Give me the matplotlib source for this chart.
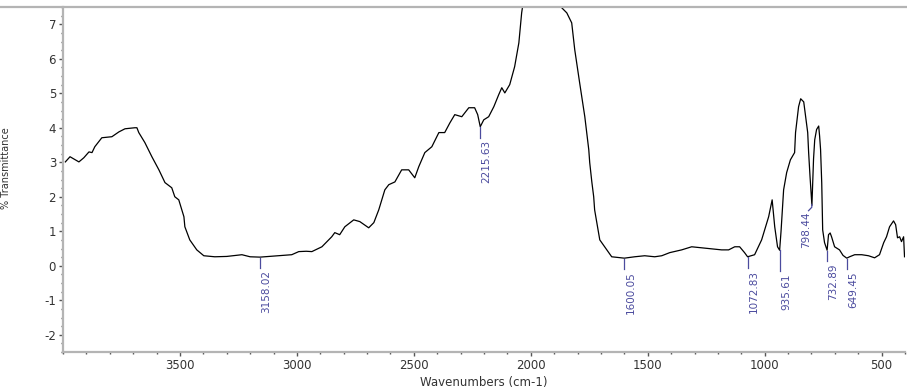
import numpy as np
import matplotlib
matplotlib.use("Agg")
import matplotlib.pyplot as plt
from matplotlib.lines import Line2D
from matplotlib.ticker import MultipleLocator

plt.rcParams["axes.unicode_minus"] = False

WAVENUMBER = [
    3990, 3970, 3950, 3932, 3911, 3889, 3876, 3864, 3834, 3791, 3761, 3735,
    3693, 3684, 3676, 3650, 3620, 3590, 3564, 3535, 3522, 3505, 3483, 3479,
    3458, 3428, 3398, 3351, 3300, 3235, 3200, 3158, 3077, 3022, 2992, 2960,
    2936, 2893, 2851, 2838, 2817, 2795, 2757, 2731, 2693, 2671, 2650, 2624,
    2607, 2581, 2552, 2522, 2496, 2479, 2453, 2423, 2393, 2368, 2346, 2325,
    2295, 2265, 2240, 2227, 2216, 2201, 2180, 2158, 2137, 2124, 2111, 2090,
    2069, 2051, 2039, 2020, 1960, 1900, 1868, 1846, 1825, 1812, 1791, 1769,
    1752, 1748, 1739, 1731, 1727, 1705, 1684, 1654, 1611, 1600, 1556, 1513,
    1470, 1440, 1406, 1355, 1312, 1269, 1227, 1184, 1154, 1128, 1107, 1086,
    1073, 1043, 1013, 983, 968, 957, 945, 936, 930, 919, 906, 890,
    872, 868, 863, 855, 846, 833, 825, 816, 812, 806, 798, 791,
    786, 778, 769, 765, 761, 756, 752, 744, 733, 727, 720, 714,
    701, 680, 665, 649, 637, 615, 585, 556, 530, 509, 491, 479,
    466, 449, 440, 432, 423, 415, 406, 402,
]
TRANSMITTANCE = [
    3.01, 3.16, 3.08, 3.01, 3.13, 3.30, 3.28, 3.45, 3.71, 3.74, 3.88, 3.97,
    4.00, 4.00, 3.86, 3.57, 3.16, 2.78, 2.41, 2.26, 2.00, 1.91, 1.42, 1.13,
    0.75, 0.46, 0.29, 0.26, 0.27, 0.32, 0.26, 0.25, 0.29, 0.32, 0.41, 0.42,
    0.41, 0.55, 0.84, 0.96, 0.90, 1.13, 1.33, 1.28, 1.10, 1.25, 1.62, 2.20,
    2.35, 2.43, 2.78, 2.78, 2.55, 2.87, 3.28, 3.45, 3.86, 3.86, 4.14, 4.38,
    4.32, 4.58, 4.58, 4.38, 4.03, 4.23, 4.32, 4.61, 4.96, 5.16, 5.01, 5.25,
    5.77, 6.46, 7.33, 8.20, 8.60, 8.40, 7.48, 7.33, 7.04, 6.26, 5.30, 4.32,
    3.36, 2.99, 2.43, 2.00, 1.62, 0.75, 0.55, 0.26, 0.23, 0.22, 0.26, 0.29,
    0.26, 0.29, 0.38, 0.46, 0.55, 0.52, 0.49, 0.46, 0.46, 0.55, 0.55, 0.38,
    0.26, 0.32, 0.75, 1.42, 1.91, 1.13, 0.55, 0.45, 1.00, 2.20, 2.70, 3.07,
    3.28, 3.86, 4.14, 4.61, 4.84, 4.75, 4.32, 3.86, 3.28, 2.58, 1.75, 3.10,
    3.65, 3.95, 4.05, 3.75, 3.37, 2.40, 1.04, 0.67, 0.45, 0.90, 0.95, 0.84,
    0.55, 0.46, 0.30, 0.22, 0.26, 0.32, 0.32, 0.29, 0.23, 0.32, 0.67, 0.84,
    1.13, 1.30, 1.19, 0.81, 0.84, 0.70, 0.84, 0.26,
]

# picos marcados
PEAK_WN     = [3158.02, 2215.63, 1600.05, 1072.83, 935.61, 798.44, 732.89, 649.45]
PEAK_LABELS = ["3158.02", "2215.63", "1600.05", "1072.83", "935.61", "798.44", "732.89", "649.45"]

X_TICKS = [3500, 3000, 2500, 2000, 1500, 1000, 500]
Y_TICKS = [-2, -1, 0, 1, 2, 3, 4, 5, 6, 7]

MARK_COLOR  = "#4b4b9e"
SPINE_COLOR = "#b4b4b4"
TEXT_COLOR  = "#333333"

fig = plt.figure(figsize=(9.07, 3.90), dpi=100)
ax = fig.add_axes([63 / 907, 38 / 390, 842 / 907, 345 / 390])

ax.plot(WAVENUMBER, TRANSMITTANCE, color="black", lw=0.9)
ax.set_xlim(4000, 400)
ax.set_ylim(-2.5, 7.5)

ax.set_xticks(X_TICKS)
ax.set_yticks(Y_TICKS)
ax.xaxis.set_minor_locator(MultipleLocator(100))
ax.yaxis.set_minor_locator(MultipleLocator(0.25))
ax.tick_params(axis="both", which="major", labelsize=8.5, length=3, width=1,
               color="#555555", labelcolor=TEXT_COLOR, pad=2)
ax.tick_params(axis="both", which="minor", length=1.5, width=1, color="#555555")

for s in ["top", "right"]:
    ax.spines[s].set_visible(False)
for s in ["left", "bottom"]:
    ax.spines[s].set_color(SPINE_COLOR)
    ax.spines[s].set_linewidth(1.6)

# linea gris superior de toda la ventana
fig.add_artist(Line2D([0, 1], [1 - 7 / 390, 1 - 7 / 390], transform=fig.transFigure,
                      color=SPINE_COLOR, lw=1.6))

# ── Marcas de picos ──────────────────────────────────────────────────────────
xs = np.array(WAVENUMBER)[::-1]
ys = np.array(TRANSMITTANCE)[::-1]
for wn, lab in zip(PEAK_WN, PEAK_LABELS):
    yc = np.interp(wn, xs, ys)
    if lab == "798.44":
        ax.plot([wn, wn, wn + 14], [yc - 0.02, yc - 0.1, yc - 0.2], color=MARK_COLOR, lw=0.9)
        ax.text(wn + 2, yc - 0.22, lab, rotation=90, ha="right", va="top",
                fontsize=7.5, color=MARK_COLOR)
        continue
    length = 0.62 if lab == "935.61" else 0.3
    ax.plot([wn, wn], [yc - 0.02, yc - 0.02 - length], color=MARK_COLOR, lw=0.9)
    ax.annotate(lab, xy=(wn, yc - 0.02 - length), xytext=(1, -1.5),
                textcoords="offset points", rotation=90, ha="left", va="top",
                fontsize=7.5, color=MARK_COLOR)

ax.set_xlabel("Wavenumbers (cm-1)", fontsize=8.5, color=TEXT_COLOR, labelpad=3)
fig.text(1 / 907, 0.57, "% Transmittance", rotation=90, ha="left", va="center",
         fontsize=7, color=TEXT_COLOR)

fig.savefig("out.png", dpi=100)
